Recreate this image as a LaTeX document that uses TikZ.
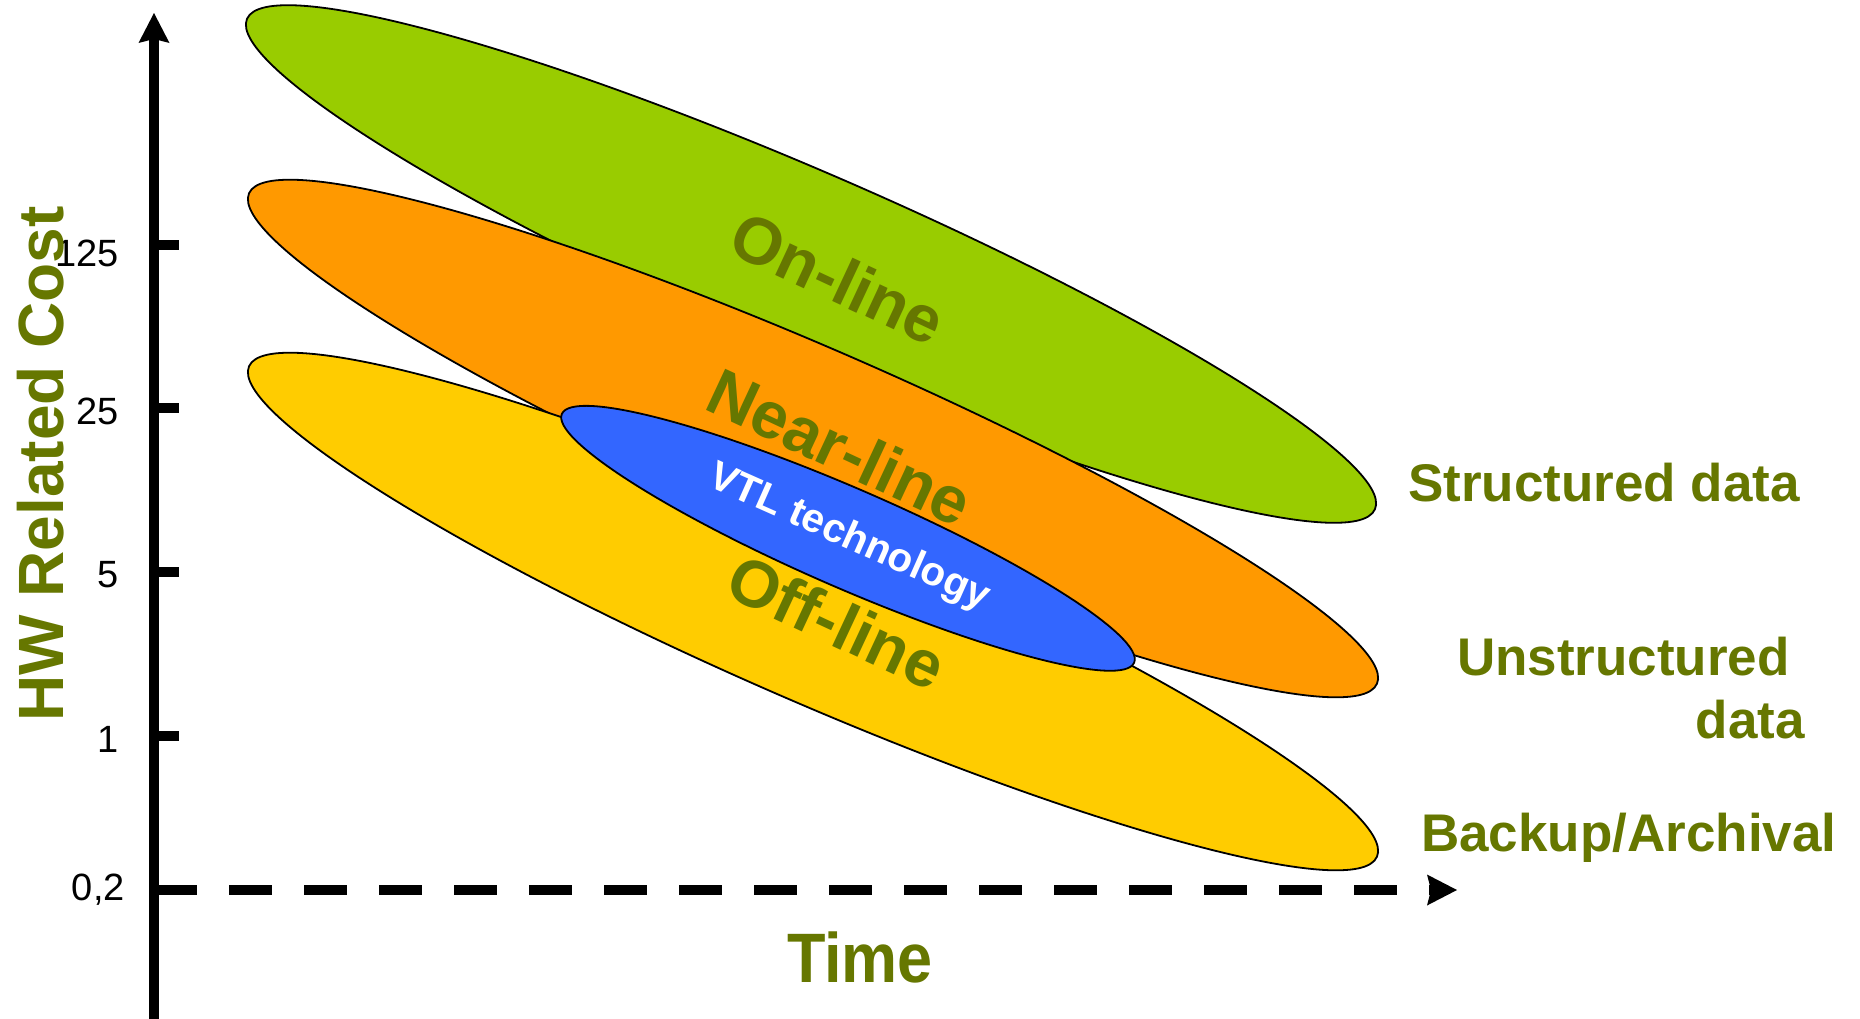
\documentclass[tikz,border=0pt]{standalone}
\usepackage{fontspec}
\setmainfont{Liberation Sans}
\usetikzlibrary{shapes.geometric, arrows.meta}

\definecolor{onlinegreen}{HTML}{99CC00}
\definecolor{nearorange}{HTML}{FF9900}
\definecolor{offyellow}{HTML}{FFCC00}
\definecolor{vtlblue}{HTML}{3366FF}
\definecolor{olivetext}{HTML}{667700}

\begin{document}
\begin{tikzpicture}[x=1pt, y=-1pt,
  band/.style={ellipse, draw=black, line width=1.8pt, inner sep=0pt,
    minimum width=1230pt, minimum height=180pt, rotate=-23.5},
  tierlabel/.style={font=\fontsize{66}{74}\selectfont\bfseries, text=olivetext,
    rotate=-25, inner sep=0pt},
  sidelabel/.style={font=\fontsize{53}{63}\selectfont\bfseries, text=olivetext,
    inner sep=0pt},
  ticklabel/.style={font=\fontsize{38}{44}\selectfont, inner sep=0pt},
  axisline/.style={line width=10pt},
  bigtip/.style={-{Stealth[length=30pt, width=31pt, inset=4pt, line width=0pt]}}
]
% canvas
\fill[white] (0,0) rectangle (1860,1018);
\useasboundingbox (0,0) rectangle (1860,1018);

% storage tiers
\node[band, fill=onlinegreen] (online) at (811,264) {};
\node[band, fill=nearorange] (nearline) at (813,438.5) {};
\node[band, fill=offyellow] (offline) at (813,611.5) {};
\node[band, fill=vtlblue, minimum width=624pt, minimum height=99pt] (vtl) at (848,538.3) {};

% tier names
\node[tierlabel] (online-label) at (838,278) {On-line};
\node[tierlabel] (nearline-label) at (840,447) {Near-line};
\node[tierlabel] (offline-label) at (837,622) {Off-line};
\node[font=\fontsize{40.5}{46}\selectfont\bfseries, text=white, rotate=-24,
  inner sep=0pt] (vtl-label) at (849,538) {VTL technology};

% data categories
\node[sidelabel, anchor=base west] (structured) at (1408,501) {Structured data};
\node[sidelabel, anchor=base east] (unstructured) at (1790,675) {Unstructured};
\node[sidelabel, anchor=base east] (unstructured-data) at (1805,738) {data};
\node[sidelabel, anchor=base west] (backup) at (1421,851) {Backup/Archival};

% axes
\coordinate (yaxis-bottom) at (154,1030);
\coordinate (yaxis-top) at (154,13);
\coordinate (origin) at (154,890);
\coordinate (xaxis-end) at (1457,890);
\draw[axisline, bigtip] (yaxis-bottom) -- (yaxis-top);
\draw[axisline, bigtip, dash pattern=on 43pt off 32pt] (origin) -- (xaxis-end);

% cost ticks
\foreach \name/\y/\ly/\lab in {t125/245/266/125, t25/408/424/25, t5/572/587/5, t1/736/752/1}{
  \coordinate (\name-a) at (150,\y);
  \coordinate (\name-b) at (179,\y);
  \draw[axisline] (\name-a) -- (\name-b);
  \node[ticklabel, anchor=base east] (\name-label) at (119,\ly) {\lab};
}
\node[ticklabel, anchor=base east] (t02-label) at (125,900) {0,2};

% axis titles
\node[font=\fontsize{64}{72}\selectfont\bfseries, text=olivetext, rotate=90,
  anchor=base, inner sep=0pt] (cost-title) at (63,464) {HW Related Cost};
\node[font=\fontsize{70}{80}\selectfont\bfseries, text=olivetext, xscale=0.9,
  anchor=base, inner sep=0pt] (time-title) at (860,982) {Time};
\end{tikzpicture}
\end{document}
